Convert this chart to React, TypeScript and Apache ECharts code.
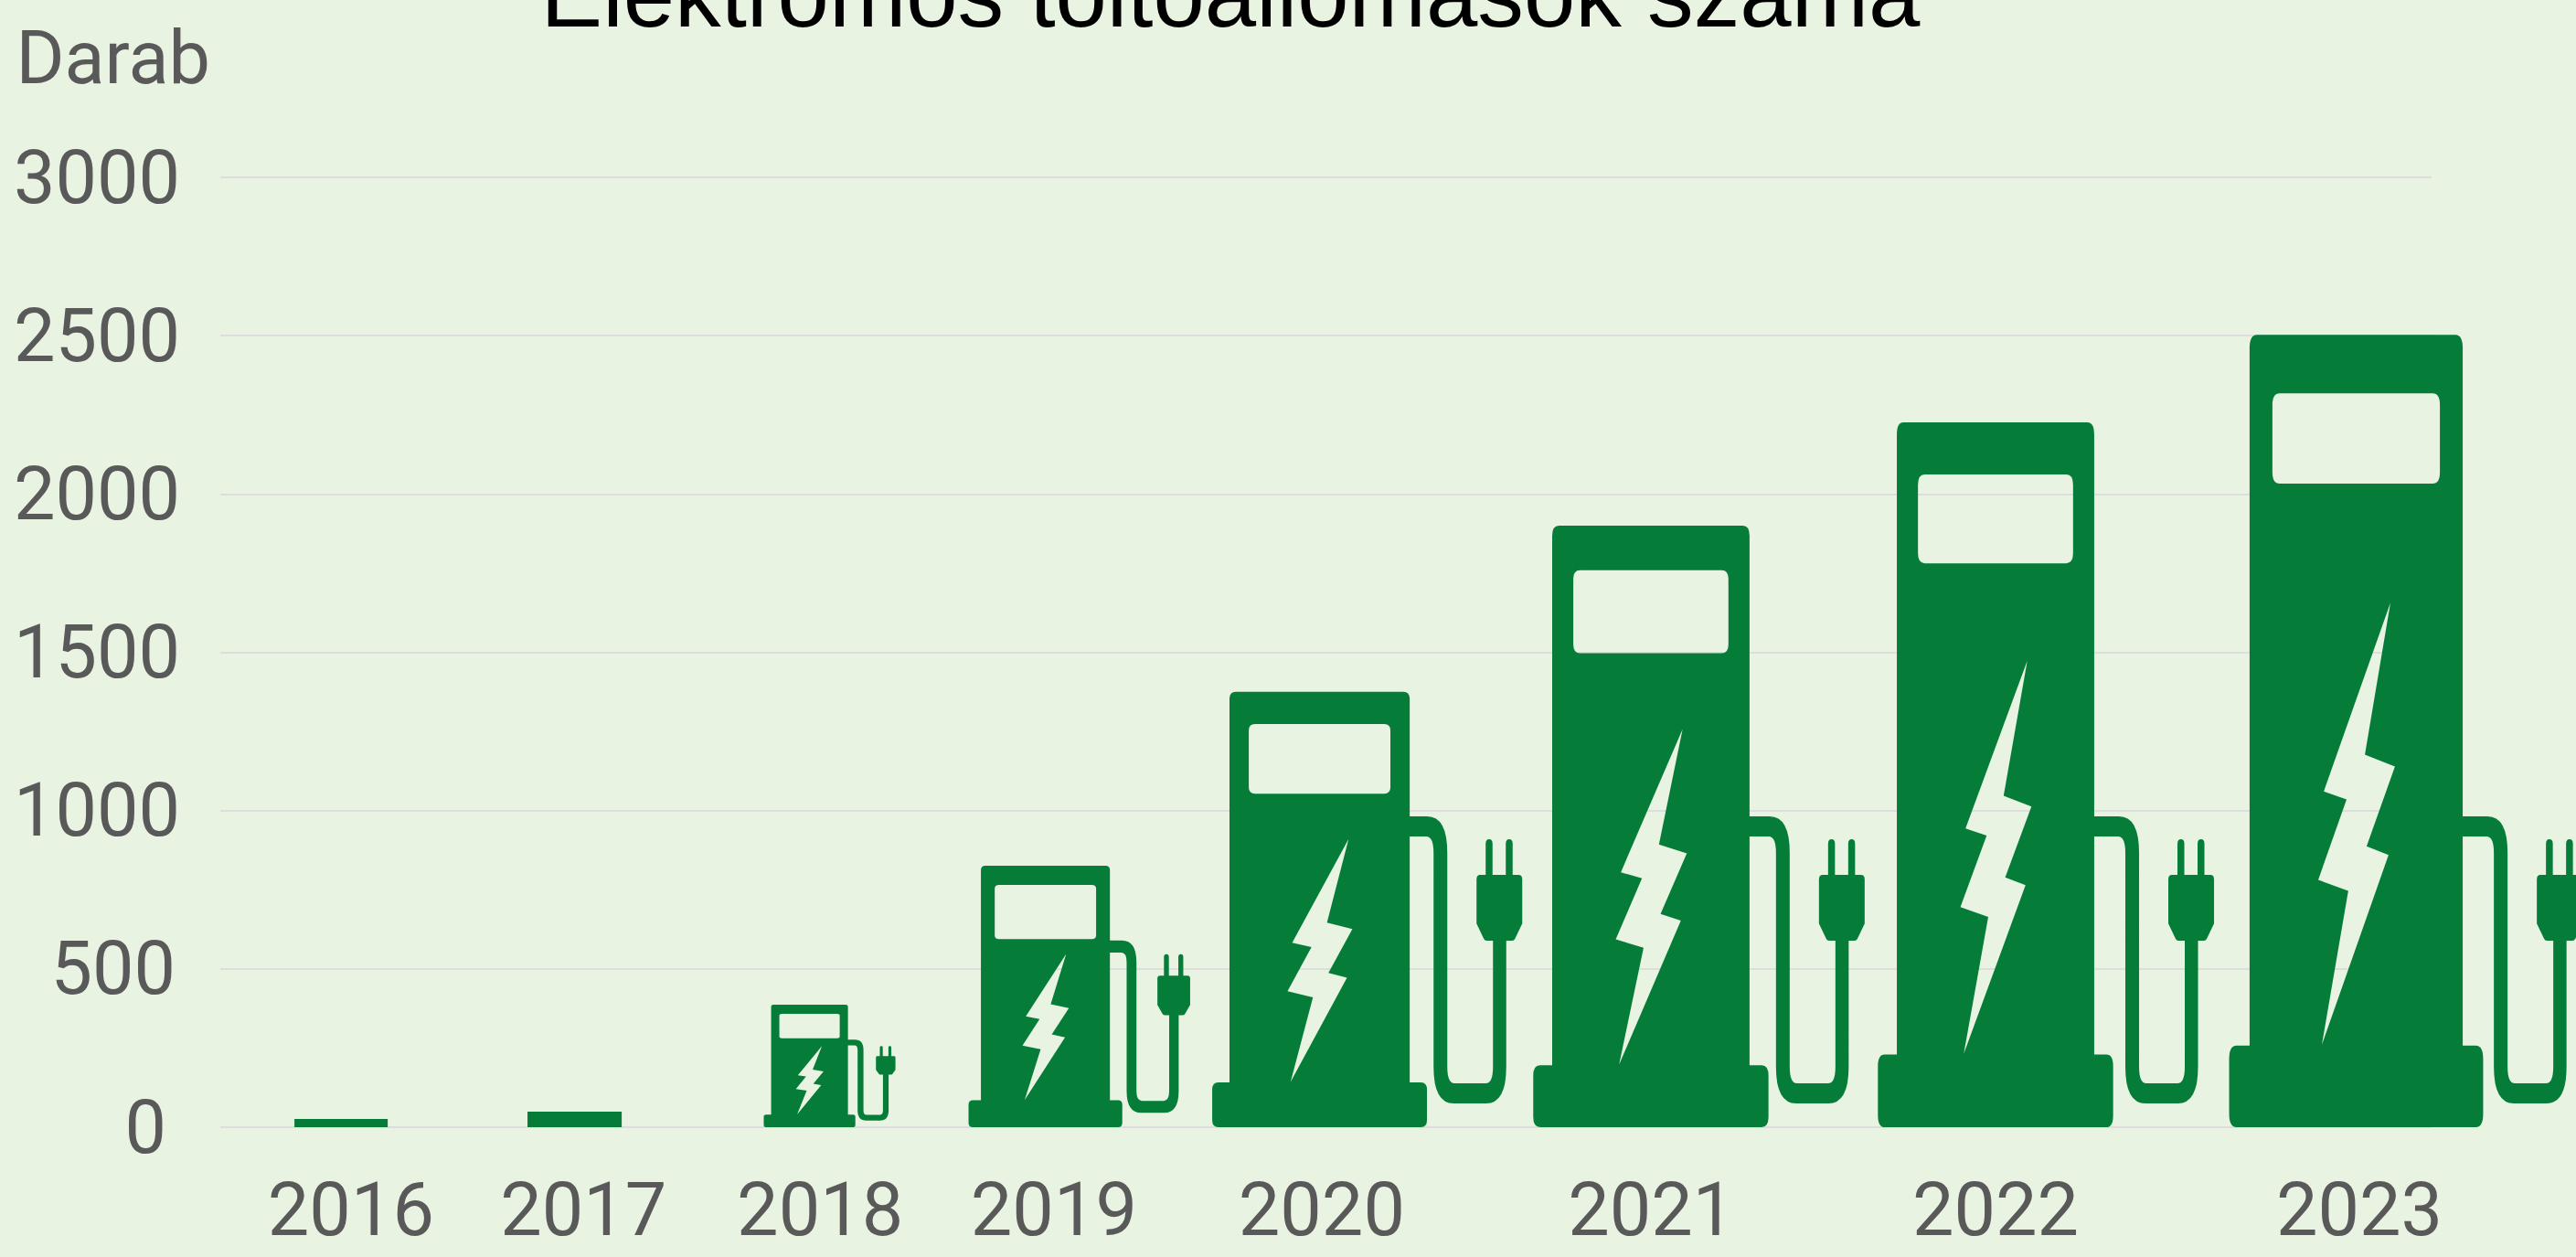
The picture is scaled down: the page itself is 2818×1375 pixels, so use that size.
import React, { useEffect, useRef } from "react";
import * as echarts from "echarts";

const titleText = "Elektromos töltőállomások száma";
const yAxisName = "Darab";
const years = ["2016", "2017", "2018", "2019", "2020", "2021", "2022", "2023"];
const stationCounts = [26, 49, 387, 826, 1375, 1900, 2226, 2503];

// Unevenly spaced x-axis slots (1 slot = one step between the early years)
const markSlots = [0.514, 1.508, 2.508, 3.512, 4.679, 6.089, 7.556, 9.091];
const tickSlots = [0.556, 1.546, 2.553, 3.548, 4.688, 6.09, 7.556, 9.105];

// Icon proportions per year
const bodyWidthSlots = [0.397, 0.401, 0.327, 0.549, 0.767, 0.84, 0.84, 0.907];
const cableReachSlots = [0, 0, 0.066, 0.113, 0.16, 0.171, 0.191, 0.191];
const windowShares = [0, 0, 0.2, 0.207, 0.16, 0.138, 0.126, 0.114];

const BG = "#E8F3E2";
const GREEN = "#057D38";
const TEXT = "#595959";
const GRID = "#DDDDDD";
const FONT = "Roboto";

const boltPoints = [
  [0.661, 0], [0.541, 0.344], [0.682, 0.371], [0.549, 0.551], [0.652, 0.571],
  [0.339, 1], [0.463, 0.652], [0.322, 0.627], [0.455, 0.445], [0.348, 0.427],
];

const n = (v: number) => v.toFixed(2);

// counter-clockwise rounded rectangle (a hole)
function roundedCCW(l: number, t: number, r: number, b: number, rx: number, ry: number) {
  return `M${n(l + rx)} ${n(t)}Q${n(l)} ${n(t)} ${n(l)} ${n(t + ry)}L${n(l)} ${n(b - ry)}` +
    `Q${n(l)} ${n(b)} ${n(l + rx)} ${n(b)}L${n(r - rx)} ${n(b)}Q${n(r)} ${n(b)} ${n(r)} ${n(b - ry)}` +
    `L${n(r)} ${n(t + ry)}Q${n(r)} ${n(t)} ${n(r - rx)} ${n(t)}Z`;
}

function stationIcon(cx: number, base: number, top: number, w: number, reach: number, windowShare: number) {
  const H = base - top;
  const L = cx - w / 2;
  const R = cx + w / 2;
  if (H < 50) {
    return { d: `M${n(L)} ${n(top)}L${n(R)} ${n(top)}L${n(R)} ${n(base)}L${n(L)} ${n(base)}Z`, x: L, y: top, width: w, height: H };
  }
  const rx = 0.034 * w;
  const ry = 0.017 * H;
  const baseOut = 0.096 * w;
  const baseTop = base - 0.103 * H;
  const bL = L - baseOut;
  const bR = R + baseOut;
  // body with plinth, clockwise
  let d = `M${n(L + rx)} ${n(top)}L${n(R - rx)} ${n(top)}Q${n(R)} ${n(top)} ${n(R)} ${n(top + ry)}L${n(R)} ${n(baseTop)}` +
    `L${n(bR - rx)} ${n(baseTop)}Q${n(bR)} ${n(baseTop)} ${n(bR)} ${n(baseTop + ry)}L${n(bR)} ${n(base - ry)}` +
    `Q${n(bR)} ${n(base)} ${n(bR - rx)} ${n(base)}L${n(bL + rx)} ${n(base)}Q${n(bL)} ${n(base)} ${n(bL)} ${n(base - ry)}` +
    `L${n(bL)} ${n(baseTop + ry)}Q${n(bL)} ${n(baseTop)} ${n(bL + rx)} ${n(baseTop)}L${n(L)} ${n(baseTop)}` +
    `L${n(L)} ${n(top + ry)}Q${n(L)} ${n(top)} ${n(L + rx)} ${n(top)}Z`;
  // window hole
  d += roundedCCW(L + 0.107 * w, top + 0.074 * H, R - 0.107 * w, top + (0.074 + windowShare) * H, rx, ry * 0.85);
  // bolt hole, counter-clockwise
  const bT = top + 0.338 * H;
  const bH = 0.558 * H;
  const pts = boltPoints.slice().reverse().map(([px, py]) => `${n(L + px * w)} ${n(bT + py * bH)}`);
  d += `M${pts.join("L")}Z`;

  // cable and plug keep a capped size
  const v = Math.min(1, H / 476);
  const hs = Math.min(1, w / 197);
  const yT = base - 340 * v;
  const yTi = yT + 22 * v;
  const yB = base - 26 * v;
  const yI = base - 48 * v;
  const plugT = base - 276 * v;
  const plugB = base - 204 * v;
  const prongT = base - 315 * v;
  const b = R + reach;
  const a = b - 15 * hs;
  const pL = b + 32 * hs;
  const pR = pL + 50 * hs;
  const c = pL + 18 * hs;
  const e = pL + 32.5 * hs;
  const oRx = 22 * hs;
  const oRy = 40 * v;
  const iRx = 8 * hs;
  const iRy = 18 * v;
  d += `M${n(R - 1)} ${n(yT)}L${n(b - oRx)} ${n(yT)}Q${n(b)} ${n(yT)} ${n(b)} ${n(yT + oRy)}L${n(b)} ${n(yI - iRy)}` +
    `Q${n(b)} ${n(yI)} ${n(b + iRx)} ${n(yI)}L${n(c - iRx)} ${n(yI)}Q${n(c)} ${n(yI)} ${n(c)} ${n(yI - iRy)}` +
    `L${n(c)} ${n(plugB - 1)}L${n(e)} ${n(plugB - 1)}L${n(e)} ${n(yB - oRy)}Q${n(e)} ${n(yB)} ${n(e - oRx)} ${n(yB)}` +
    `L${n(a + oRx)} ${n(yB)}Q${n(a)} ${n(yB)} ${n(a)} ${n(yB - oRy)}L${n(a)} ${n(yTi + iRy)}Q${n(a)} ${n(yTi)} ${n(a - iRx)} ${n(yTi)}L${n(R - 1)} ${n(yTi)}Z`;
  // plug body
  const cr = 4 * hs;
  const ch = plugT + 0.74 * (plugB - plugT);
  const inset = 8 * hs;
  d += `M${n(pL + cr)} ${n(plugT)}L${n(pR - cr)} ${n(plugT)}Q${n(pR)} ${n(plugT)} ${n(pR)} ${n(plugT + 5 * v)}L${n(pR)} ${n(ch)}` +
    `L${n(pR - inset)} ${n(plugB - 2 * v)}Q${n(pR - inset - 1)} ${n(plugB)} ${n(pR - inset - 3 * hs)} ${n(plugB)}` +
    `L${n(pL + inset + 3 * hs)} ${n(plugB)}Q${n(pL + inset + 1)} ${n(plugB)} ${n(pL + inset)} ${n(plugB - 2 * v)}L${n(pL)} ${n(ch)}` +
    `L${n(pL)} ${n(plugT + 5 * v)}Q${n(pL)} ${n(plugT)} ${n(pL + cr)} ${n(plugT)}Z`;
  // prongs
  for (const off of [10, 32]) {
    const l = pL + off * hs;
    const r = l + 7.5 * hs;
    const m = (l + r) / 2;
    d += `M${n(l)} ${n(prongT + 5 * v)}Q${n(l)} ${n(prongT)} ${n(m)} ${n(prongT)}Q${n(r)} ${n(prongT)} ${n(r)} ${n(prongT + 5 * v)}` +
      `L${n(r)} ${n(plugT + 1)}L${n(l)} ${n(plugT + 1)}Z`;
  }
  return { d, x: bL, y: top, width: pR - bL, height: H };
}

export default function App() {
  const ref = useRef<HTMLDivElement>(null);
  useEffect(() => {
    const chart = echarts.init(ref.current!, null, { renderer: "svg" });
    chart.setOption({
      animation: false,
      backgroundColor: BG,
      textStyle: { fontFamily: FONT },
      title: {
        text: titleText,
        left: 1341,
        top: -62,
        textAlign: "center",
        textStyle: { fontFamily: "Liberation Sans", fontSize: 101.3, fontWeight: "normal", color: "#000000" },
      },
      grid: { left: 241, top: 194, width: 2419, height: 1039, outerBoundsMode: "none" },
      xAxis: {
        type: "value",
        min: 0,
        max: 9.412,
        axisLine: { show: false },
        axisTick: { show: false },
        splitLine: { show: false },
        axisLabel: {
          customValues: tickSlots,
          formatter: (v: number) => years[tickSlots.indexOf(v)] ?? "",
          fontFamily: FONT,
          fontSize: 81,
          color: TEXT,
          margin: 50,
          hideOverlap: false,
        },
      },
      yAxis: {
        type: "value",
        min: 0,
        max: 3000,
        interval: 500,
        name: yAxisName,
        nameLocation: "end",
        nameGap: 90,
        nameTextStyle: { fontFamily: FONT, fontSize: 81, color: TEXT, align: "right", padding: [0, 11, 0, 0] },
        axisLine: { show: false },
        axisTick: { show: false },
        splitLine: { lineStyle: { color: GRID, width: 2 } },
        axisLabel: {
          fontFamily: FONT,
          fontSize: 81,
          color: TEXT,
          margin: 44,
          formatter: (v: number) => (v === 0 ? "{zero|0}" : v === 500 ? "{five|500}" : String(v)),
          rich: {
            zero: { fontFamily: FONT, fontSize: 81, color: TEXT, padding: [0, 15, 0, 0] },
            five: { fontFamily: FONT, fontSize: 81, color: TEXT, padding: [0, 5, 0, 0] },
          },
        },
      },
      series: [
        {
          type: "custom",
          clip: false,
          data: stationCounts.map((count, i) => [markSlots[i], count, i]),
          encode: { x: 0, y: 1 },
          renderItem: (_params: any, api: any) => {
            const i = api.value(2);
            const [cx, top] = api.coord([api.value(0), api.value(1)]);
            const [, base] = api.coord([api.value(0), 0]);
            const slot = api.size([1, 0])[0];
            const icon = stationIcon(cx, base, top, bodyWidthSlots[i] * slot, cableReachSlots[i] * slot, windowShares[i]);
            return {
              type: "path",
              shape: { pathData: icon.d, x: icon.x, y: icon.y, width: icon.width, height: icon.height, layout: "cover" },
              style: { fill: GREEN },
            };
          },
        },
      ],
    });
    return () => chart.dispose();
  }, []);
  return <div ref={ref} style={{ position: "fixed", left: 0, top: 0, width: 2818, height: 1375 }} />;
}
